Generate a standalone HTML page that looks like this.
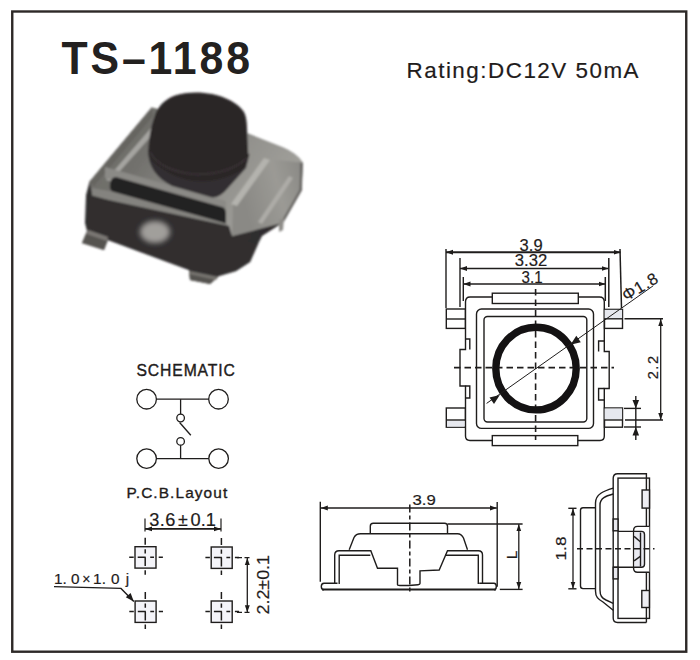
<!DOCTYPE html>
<html><head><meta charset="utf-8">
<style>
html,body{margin:0;padding:0;background:#fff;width:700px;height:660px;overflow:hidden}
svg{display:block}
text{font-family:"Liberation Sans",sans-serif;fill:#1f1c1b;stroke:#1f1c1b;stroke-width:0.2}
</style></head>
<body>
<svg width="700" height="660" viewBox="0 0 700 660">
<defs>
<filter id="blur2" x="-50%" y="-50%" width="200%" height="200%"><feGaussianBlur stdDeviation="2.5"/></filter>
<filter id="soft" x="-5%" y="-5%" width="110%" height="110%"><feGaussianBlur stdDeviation="0.9"/></filter>
<marker id="ar" viewBox="0 0 10 10" refX="10" refY="5" markerWidth="7" markerHeight="7" orient="auto-start-reverse" markerUnits="userSpaceOnUse">
<path d="M0,1.5 L10,5 L0,8.5 z" fill="#1d1b1a"/>
</marker>
</defs>
<rect x="0" y="0" width="700" height="660" fill="#fff"/>
<!-- frame -->
<rect x="12.25" y="11.5" width="674" height="640.2" fill="none" stroke="#2d2927" stroke-width="2.4"/>

<!-- title -->
<text transform="translate(61.5,74) scale(0.94,1)" font-size="45.5" font-weight="bold" textLength="200.5" lengthAdjust="spacing" style="fill:#232120;stroke:none">TS–1188</text>
<text x="406.5" y="78" font-size="22.4" textLength="232" style="stroke:#1f1c1b;stroke-width:0.2" lengthAdjust="spacing">Rating:DC12V 50mA</text>

<!-- PHOTO placeholder -->
<g id="photo" filter="url(#soft)">
<linearGradient id="gTop" x1="0" y1="0" x2="1" y2="0.4">
<stop offset="0" stop-color="#6a6965"/><stop offset="0.35" stop-color="#72716d"/><stop offset="0.62" stop-color="#8c8b87"/><stop offset="1" stop-color="#a09f9a"/></linearGradient>
<linearGradient id="gRight" x1="0" y1="0" x2="1" y2="-0.3">
<stop offset="0" stop-color="#8a8985"/><stop offset="0.5" stop-color="#9b9a95"/><stop offset="0.85" stop-color="#8c8b87"/><stop offset="1" stop-color="#6e6d6a"/></linearGradient>
<linearGradient id="gBase" x1="0" y1="0" x2="1" y2="0">
<stop offset="0" stop-color="#2f2d2e"/><stop offset="0.5" stop-color="#363434"/><stop offset="1" stop-color="#2a2829"/></linearGradient>
<!-- silhouette / dark base -->
<path d="M151.7,107.6 L248.3,133.8 L282.8,147.6 Q296,153 302.6,162.4 L301.6,190 L283,222.6 L262,236 L258,244 L250,262 L236,271 L219,276 L210,284 L190,280 L189,270 L108,240 L104,250 L82,243 L87,231 L85,223 L86,195 L89.5,181.8 Z" fill="url(#gBase)"/>
<!-- metal cover (top + bevels) -->
<path d="M151.7,107.6 L248.3,133.8 L282.8,147.6 Q296,153 302.6,162.4 L301.6,190 L283,222.6 L232,236 L226,224 L92,194 L89.5,181.8 Z" fill="url(#gTop)"/>
<!-- left bevel darker outer -->
<path d="M151.7,107.6 L89.5,181.8 L94,186 L153,116 Z" fill="#666561"/>
<!-- left bevel highlight ridge -->
<path d="M151,128 L106,180 L111,181 L153,134 Z" fill="#a6a5a1"/>
<!-- right face -->
<path d="M233,204 L266,159 L302.6,162.4 L301.6,190 L283,222.6 L232,236 Z" fill="url(#gRight)"/>
<!-- right ridge highlight -->
<path d="M231,204 L264,158 L270,160 L237,206 Z" fill="#b4b3ae"/>
<path d="M258,222 L289,176 L293,178 L262,224 Z" fill="#adaca7"/>
<path d="M301.5,163 L300.8,190 L283,221" fill="none" stroke="#5d5b59" stroke-width="2.2"/>
<!-- groove -->
<path d="M105,167 L226,201 L226,211 L105,178 Z" fill="#8b8a86"/>
<path d="M116,177 L222,207 Q226,208 226,214 L226,224 L113,192 Q109,190 110,184 Q111,177 116,177 Z" fill="#242022"/>
<!-- rim -->
<path d="M92,188 L112,191.5 L226,223.5 L231,234 L160,214.5 L92,195.5 Z" fill="#84837f"/>
<!-- front dark under rim -->
<path d="M90,196 L229,226 L232,236 L258,244 L250,262 L236,271 L219,276 L189,270 L108,240 L87,231 Z" fill="#302e2f"/>
<!-- light spot under -->
<ellipse cx="155" cy="232" rx="15" ry="11" fill="#a19f9b" filter="url(#blur2)"/>
<!-- pins -->
<path d="M88,230 L108,237 L104,250 L82,243 Z" fill="#55524f"/>
<path d="M88,230 L108,237 L107,241 L86.5,234 Z" fill="#7a7773"/>
<path d="M189,271 L218,277 L210,284 L190,280 Z" fill="#55524f"/>
<path d="M189,271 L218,277 L216,280 L189,274 Z" fill="#77746f"/>
<path d="M279,220 L284,218 L283,230 L279,232 Z" fill="#8d8b87"/>
<!-- button shadow ring -->
<path d="M148,150 C148,166 156,178 172,186 L212,197.5 Q220,198 228,188 L246,168 L249.5,154 Z" fill="#332f30"/>
<!-- button -->
<path d="M154.6,116.6 C157,107 165,99 175,95.5 C185,92 200,91.5 212,94 C226,97 238,103 244,112 C246,116 246.5,120 246.8,124 L248.3,156 C248,164 244,169 237,172.4 C226,178 213,181 200.7,181.3 C187,181 174,176 164.3,170 C156,165 149,159 148.3,152 C148.5,140 151,126 154.6,116.6 Z" fill="#2a2527"/>
<path d="M150,152 C156,164 172,172 192,174 C214,175 234,170 247,158" fill="none" stroke="#383335" stroke-width="2"/>
</g>

<!-- TOP VIEW -->
<g id="top" fill="none" stroke="#1f1d1c" stroke-width="1.4">
<!-- dimension lines -->
<line x1="446" y1="252.3" x2="620.5" y2="252.3" marker-start="url(#ar)" marker-end="url(#ar)" stroke-width="2.1"/>
<line x1="460" y1="268.5" x2="608.5" y2="268.5" marker-start="url(#ar)" marker-end="url(#ar)" stroke-width="1.6"/>
<line x1="463.5" y1="284" x2="605.5" y2="284" marker-start="url(#ar)" marker-end="url(#ar)" stroke-width="1.6"/>
<line x1="446" y1="249" x2="446" y2="308"/>
<line x1="620" y1="249" x2="621.5" y2="308" stroke-width="1.5"/>
<line x1="460" y1="258" x2="460" y2="307"/>
<line x1="608.8" y1="258" x2="608.8" y2="307" stroke-width="1.5"/>
<line x1="463.3" y1="277" x2="463.3" y2="301"/>
<line x1="605.3" y1="277" x2="605.3" y2="301" stroke-width="1.5"/>
<!-- body outline -->
<path d="M492,297 L470,297 Q465.5,297 465.5,302 L465.5,349.5 L460,349.5 L460,386 L465.5,386 L465.5,436 Q465.5,440.5 470,440.5 L492,440.5"/>
<path d="M578,297 L599.5,297 Q604.3,297 604.3,302 L604.3,351.5 L609.2,351.5 L609.2,388.5 L604.3,388.5 L604.3,436 Q604.3,440.5 600,440.5 L578,440.5"/>
<!-- top/bottom tabs -->
<rect x="492.3" y="293.2" width="86" height="10.3" fill="#fff"/>
<rect x="492.3" y="435.6" width="85.5" height="10" fill="#fff"/>
<!-- side tabs -->
<rect x="446.3" y="309" width="19" height="19.4" fill="#fff"/>
<line x1="446.3" y1="319" x2="465.3" y2="319"/>
<rect x="446.3" y="408" width="19" height="19.2" fill="#fff"/>
<rect x="447" y="420.6" width="17.6" height="6" fill="#e6e8ee" stroke="none"/>
<line x1="446.3" y1="420" x2="465.3" y2="420"/>
<rect x="604.5" y="309.4" width="18" height="19" fill="#fff"/>
<rect x="604.6" y="309.8" width="17.5" height="8.6" fill="#e6e8ee" stroke="none"/>
<line x1="604.5" y1="318.8" x2="622.5" y2="318.8"/>
<rect x="604.5" y="408" width="18" height="19.2" fill="#fff"/>
<rect x="604.6" y="408.5" width="17.5" height="11" fill="#e6e8ee" stroke="none"/>
<line x1="604.5" y1="420" x2="622.5" y2="420"/>
<!-- bumps -->
<path d="M465.5,339 L469.8,339 L469.8,349.5"/>
<path d="M465.5,386 L469.8,386 L469.8,398 L465.5,398"/>
<path d="M604.3,341 L598.6,341 L598.6,351.5"/>
<path d="M604.3,388.5 L598.6,388.5 L598.6,400 L604.3,400"/>
<!-- inner squares -->
<rect x="476.5" y="309" width="117" height="119.4" rx="5"/>
<rect x="484" y="316.5" width="102.8" height="105.5" rx="3.5"/>
<!-- center lines -->
<line x1="454" y1="367.7" x2="614" y2="367.7" stroke-dasharray="6.5,4" stroke-width="1.7"/>
<line x1="535.6" y1="289" x2="535.6" y2="440" stroke-dasharray="6.5,4" stroke-width="1.6"/>
<!-- circle -->
<ellipse cx="536" cy="368.6" rx="40.2" ry="41.3" stroke="#141213" stroke-width="7.4"/>
<!-- leader -->
<line x1="486.6" y1="403.4" x2="653.3" y2="285.7" stroke-width="1"/>
<path d="M499.8,395 L489.5,397.5 L494,404 Z" fill="#1d1b1a" stroke="none"/>
<path d="M570.5,344.8 L580.8,342.3 L576.3,335.8 Z" fill="#1d1b1a" stroke="none"/>
<!-- 2.2 dim -->
<line x1="624.5" y1="318.8" x2="663" y2="318.8"/>
<line x1="625" y1="420" x2="663" y2="420"/>
<line x1="660.7" y1="319" x2="660.7" y2="420" marker-start="url(#ar)" marker-end="url(#ar)" stroke-width="1.3"/>
<!-- small dim -->
<line x1="624" y1="408.4" x2="641" y2="408.4"/>
<line x1="624" y1="427" x2="641" y2="427"/>
<line x1="635.8" y1="396" x2="635.8" y2="440"/>
<path d="M635.8,408.4 L632.5,400 L639.1,400 Z" fill="#1d1b1a" stroke="none"/>
<path d="M635.8,427 L632.5,435.4 L639.1,435.4 Z" fill="#1d1b1a" stroke="none"/>
</g>
<g font-size="15.8" style="stroke:#1f1c1b;stroke-width:0.2">
<text x="519.6" y="250.6" textLength="23" lengthAdjust="spacingAndGlyphs">3.9</text>
<text x="514.8" y="266.4" textLength="32.4" lengthAdjust="spacingAndGlyphs">3.32</text>
<text x="521.6" y="283.2" textLength="21" lengthAdjust="spacingAndGlyphs">3.1</text>
<text transform="translate(626.3,301.6) rotate(-31)" font-size="16.5" textLength="38.5" lengthAdjust="spacing">Φ1.8</text>
<text transform="translate(658.4,379.3) rotate(-90)" font-size="14.6" textLength="23.4" lengthAdjust="spacing">2.2</text>
</g>

<!-- SCHEMATIC -->
<g id="sch">
<text transform="translate(136.4,375.8) scale(0.97,1)" font-size="16.2" textLength="101.6" lengthAdjust="spacing" style="stroke:#1f1c1b;stroke-width:0.4">SCHEMATIC</text>
<g fill="none" stroke="#1f1d1c" stroke-width="1.3">
<circle cx="146.6" cy="399.2" r="9.8"/>
<circle cx="218.5" cy="399.2" r="9.8"/>
<circle cx="146.6" cy="458.6" r="9.8"/>
<circle cx="218.6" cy="458.6" r="9.8"/>
<line x1="156.4" y1="399.2" x2="208.8" y2="399.2"/>
<line x1="156.4" y1="458.6" x2="208.8" y2="458.6"/>
<line x1="180.6" y1="399.2" x2="180.6" y2="414.2"/>
<circle cx="180.6" cy="418" r="3.8"/>
<line x1="179.6" y1="422.5" x2="190.8" y2="435.3"/>
<circle cx="180.6" cy="441.4" r="3.8"/>
<line x1="180.6" y1="445.2" x2="180.6" y2="458.6"/>
</g>
</g>

<!-- PCB -->
<g id="pcb">
<text transform="translate(126.4,498.3)" font-size="15.4" textLength="100.8" lengthAdjust="spacing" style="stroke:#1f1c1b;stroke-width:0.35">P.C.B.Layout</text>
<g font-size="18.2"><text x="149.2" y="525.6" textLength="26.2" lengthAdjust="spacing">3.6</text><text x="178" y="525.6" textLength="9.8" lengthAdjust="spacingAndGlyphs">±</text><text x="190.6" y="525.6" textLength="25.2" lengthAdjust="spacing">0.1</text></g>
<g fill="none" stroke="#1f1d1c" stroke-width="1.2">
<line x1="145" y1="528.9" x2="221" y2="528.9" marker-start="url(#ar)" marker-end="url(#ar)" stroke-width="1.8"/>
<line x1="145" y1="518.5" x2="145" y2="531.5"/>
<line x1="221" y1="518.5" x2="221" y2="531.5"/>
<rect x="135.0" y="546.7" width="21" height="21.4" fill="#f4f4f9" stroke-width="1.4"/>
<path d="M145.2,537.8 V544.8 M145.2,549.3 V553.5 M145.2,557.3 V566.1 M145.2,570.3 V574.8 M129.2,557.3 H133.7 M137.7,557.3 H145.7 M150.2,557.3 H154.0 M158.7,557.3 H162.9" stroke-width="1.5"/>
<rect x="211.2" y="547.0" width="21" height="21.4" fill="#f4f4f9" stroke-width="1.4"/>
<path d="M221.4,538.1 V545.1 M221.4,549.6 V553.8 M221.4,557.6 V566.4 M221.4,570.6 V575.1 M205.4,557.6 H209.9 M213.9,557.6 H221.9 M226.4,557.6 H230.2 M234.9,557.6 H239.1" stroke-width="1.5"/>
<rect x="135.1" y="601.0" width="21" height="21.4" fill="#f4f4f9" stroke-width="1.4"/>
<path d="M145.3,592.1 V599.1 M145.3,603.6 V607.8 M145.3,611.6 V620.4 M145.3,624.6 V629.1 M129.3,611.6 H133.8 M137.8,611.6 H145.8 M150.3,611.6 H154.1 M158.8,611.6 H163.0" stroke-width="1.5"/>
<rect x="211.2" y="601.0" width="21" height="21.4" fill="#f4f4f9" stroke-width="1.4"/>
<path d="M221.4,592.1 V599.1 M221.4,603.6 V607.8 M221.4,611.6 V620.4 M221.4,624.6 V629.1 M205.4,611.6 H209.9 M213.9,611.6 H221.9 M226.4,611.6 H230.2 M234.9,611.6 H239.1" stroke-width="1.5"/>
<path d="M237,557.7 H251.5 M237,612.3 H251.5" stroke-dasharray="5,2.5" stroke-width="1.2"/>
<line x1="247.3" y1="558" x2="247.3" y2="612.3" marker-start="url(#ar)" marker-end="url(#ar)" stroke-width="1.3"/>
<path d="M54,586.6 L121,588.4 L133.8,601.5" stroke-width="1.4"/>
</g>
<path d="M133.8,601.5 L125.8,597.2 L130.6,593 Z" fill="#1d1b1a"/>
<g font-size="15.3"><text x="54" y="584.3" textLength="25.6" lengthAdjust="spacing">1. 0</text><text x="82.3" y="584.3" textLength="8.2" lengthAdjust="spacingAndGlyphs">×</text><text x="93" y="584.3" textLength="26.5" lengthAdjust="spacing">1. 0</text><text x="125.8" y="584.3" style="fill:#2a2828">j</text></g>
<text transform="translate(268.6,614.5) rotate(-90)" font-size="16" textLength="59.5" lengthAdjust="spacingAndGlyphs">2.2±0.1</text>
</g>

<!-- FRONT -->
<g id="front" fill="none" stroke="#1f1d1c" stroke-width="1.4">
<line x1="320.3" y1="501.7" x2="320.3" y2="581.7"/>
<line x1="497.2" y1="502" x2="497.2" y2="586.7"/>
<line x1="320.8" y1="508" x2="496.8" y2="508" marker-start="url(#ar)" marker-end="url(#ar)" stroke-width="1.3"/>
<line x1="409.8" y1="504.5" x2="409.8" y2="593" stroke-dasharray="8,3,4,3" stroke-width="1.5"/>
<!-- button -->
<path d="M370.3,533 L370.3,526.3 Q370.3,523.3 373.3,523.3 L444.5,523.3 Q447.5,523.3 447.5,526.3 L447.5,533"/>
<!-- housing top -->
<path d="M349.2,549.7 L354,537.5 Q356,533.7 360.5,533.7 L457.5,533.7 Q461.5,533.7 463.5,538 L467.5,549.7"/>
<!-- frame left -->
<path d="M334.7,584 L334.7,555 Q334.7,550.8 339,550.8 L370.8,550.8 L377.5,568.3 L397.5,568.3 L397.5,584.5 Q397.5,585.5 400,585.5 L409,585.5"/>
<path d="M339.2,584 L339.2,555.2 L370.3,555.2"/>
<!-- frame right -->
<path d="M482.5,584 L482.5,555 Q482.5,550.8 478.3,550.8 L447.5,550.8 L439.2,570 L420,570.8 L420,583.5 Q420,584.5 418,584.7 L409,585.5"/>
<path d="M478.3,584 L478.3,555.2 L445,555.2"/>
<!-- feet -->
<path d="M337.5,583.3 L324,583.3 Q321.3,583.3 321.3,586.5 Q321.3,589.7 324,589.7"/>
<path d="M479.2,583.3 L494,583.3 Q496.3,583.3 496.3,586.5 Q496.3,589.7 494,589.7"/>
<line x1="322" y1="589.4" x2="496" y2="589.4" stroke-width="2"/>
<!-- L dim -->
<line x1="447.5" y1="524" x2="522.6" y2="524"/>
<line x1="499.8" y1="589.4" x2="522.6" y2="589.4"/>
<line x1="518.8" y1="524.3" x2="518.8" y2="589" marker-start="url(#ar)" marker-end="url(#ar)" stroke-width="1.3"/>
</g>
<text x="412.5" y="505.3" font-size="15" textLength="23.3" lengthAdjust="spacingAndGlyphs">3.9</text>
<text transform="translate(516.6,559.3) rotate(-90)" font-size="15.5">L</text>

<!-- SIDE -->
<g id="side" fill="none" stroke="#1f1d1c" stroke-width="1.4">
<!-- frame outer -->
<path d="M646.4,622.5 L617.5,622.5 Q613.2,622.5 613.2,618 L613.2,478.3 Q613.2,473.8 617.7,473.8 L646.4,473.8 L646.4,622.5"/>
<rect x="618" y="478.1" width="31.5" height="140.3"/>
<!-- wall breaks -->
<rect x="613.2" y="519" width="4.8" height="11.8" fill="#e8e8ee"/>
<rect x="613.2" y="567.3" width="4.8" height="11.6" fill="#e8e8ee"/>
<!-- right tabs -->
<rect x="642.1" y="490" width="7.4" height="18.1" fill="#eeeef3"/>
<rect x="641.8" y="590.5" width="7.6" height="17" fill="#eeeef3"/>
<!-- latch -->
<path d="M649.3,526.4 L637.5,526.4 Q633.6,526.4 633.6,530.5 L633.6,568.3 Q633.6,572.3 637.5,572.3 L649.3,572.3" fill="#fff"/>
<path d="M634.5,532 L641.5,532 Q644.5,532 644.5,535 L644.5,564 Q644.5,567 641.5,567 L634.5,567 Z" fill="#e9eaf1" stroke="none"/>
<path d="M618,531.4 L641.5,531.4 Q644.5,531.4 644.5,534.4 L644.5,564.3 Q644.5,567.3 641.5,567.3 L613.2,567.3"/>
<line x1="640.5" y1="532.5" x2="640.5" y2="566.5"/>
<line x1="634.1" y1="536.4" x2="640.3" y2="541.8"/>
<line x1="634.1" y1="560.9" x2="640.3" y2="556.4"/>
<!-- dome -->
<path d="M613.2,488.2 C604,491 595.5,494 595.5,503 L595.5,591 C595.5,597 598,599 603,602 L613.2,610.3"/>
<path d="M613.2,494 C606,496 600,498 600,505 L600,590 C600,596 602,598 606,600 L613.2,603.4"/>
<!-- button -->
<path d="M595.5,507.8 L583,507.8 Q580.5,507.8 580.5,510.3 L580.5,586.1 Q580.5,588.6 583,588.6 L595.5,588.6"/>
<!-- 1.8 dim -->
<line x1="568.3" y1="508.3" x2="576.5" y2="508.3"/>
<line x1="568.3" y1="588.8" x2="576.5" y2="588.8"/>
<line x1="573" y1="508.5" x2="573" y2="588.6" marker-start="url(#ar)" marker-end="url(#ar)" stroke-width="1.3"/>
<line x1="577" y1="548.8" x2="654.5" y2="548.8" stroke-dasharray="6,3.5"/>
</g>
<text transform="translate(566.2,560.5) rotate(-90)" font-size="15" textLength="24" lengthAdjust="spacingAndGlyphs">1.8</text>
</svg>
</body></html>
